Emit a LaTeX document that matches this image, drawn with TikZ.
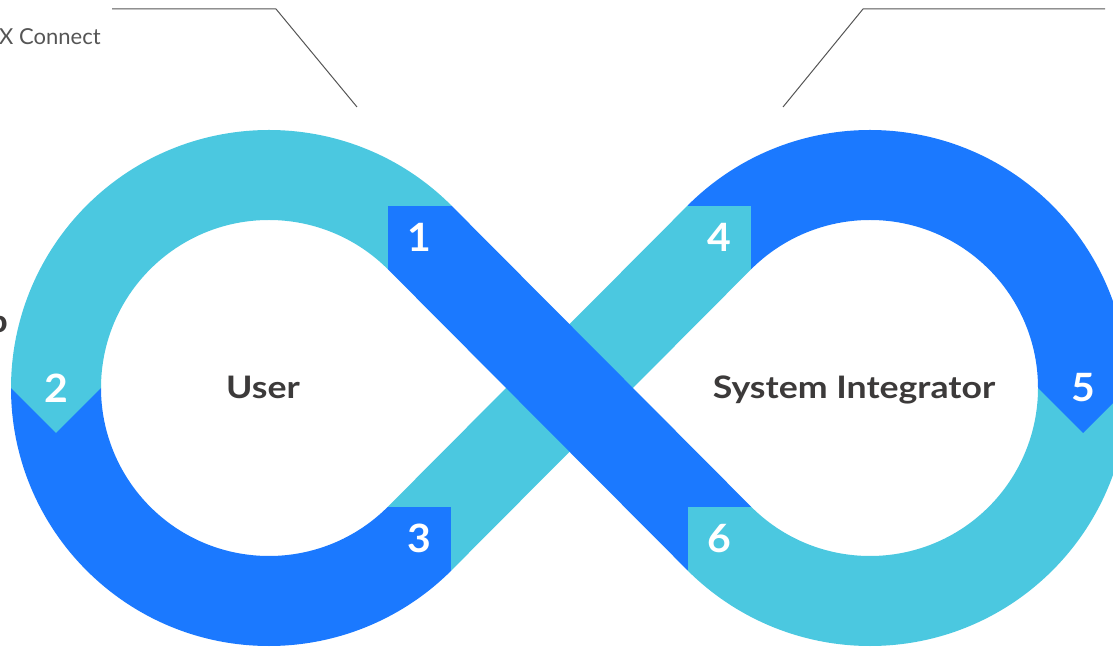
\documentclass[tikz,border=0pt]{standalone}
\usepackage{fontspec}
\setmainfont{Lato}
\usetikzlibrary{calc}
\definecolor{loopblue}{RGB}{27,121,255}
\definecolor{loopcyan}{RGB}{75,200,224}
\definecolor{txtgray}{RGB}{60,58,58}
\definecolor{linegray}{RGB}{85,85,85}

\begin{document}
\begin{tikzpicture}[x=1pt,y=1pt,
  num/.style={text=white,font=\fontsize{39}{39}\selectfont\bfseries,inner sep=0pt,xscale=1.05},
  side/.style={text=txtgray,font=\fontsize{31}{31}\selectfont\bfseries,inner sep=0pt,xscale=1.15},
  lead/.style={linegray,line width=1pt}]
\useasboundingbox (0,0) rectangle (1113,648);
% loop centres and tangent points
\coordinate (L) at (269,260);
\coordinate (R) at (870,260);
\coordinate (T1) at ($(L)+(45:213)$);
\coordinate (T3) at ($(L)+(-45:213)$);
\coordinate (T4) at ($(R)+(135:213)$);
\coordinate (T6) at ($(R)+(225:213)$);
% left loop
\fill[loopblue] ($(L)+(180:258)$) arc[start angle=180,end angle=315,radius=258]
  -- ($(L)+(315:168)$) arc[start angle=315,end angle=180,radius=168] -- cycle;
\fill[loopcyan] ($(L)+(45:258)$) arc[start angle=45,end angle=180,radius=258]
  -- ($(L)+(-213,-45)$) -- ($(L)+(180:168)$) arc[start angle=180,end angle=45,radius=168] -- cycle;
% right loop
\fill[loopcyan] ($(R)+(0:258)$) arc[start angle=0,end angle=-135,radius=258]
  -- ($(R)+(-135:168)$) arc[start angle=-135,end angle=0,radius=168] -- cycle;
\fill[loopblue] ($(R)+(135:258)$) arc[start angle=135,end angle=0,radius=258]
  -- ($(R)+(213,-45)$) -- ($(R)+(0:168)$) arc[start angle=0,end angle=135,radius=168] -- cycle;
% crossing bands
\fill[loopcyan] ($(T3)+(-31.8,31.8)$) -- ($(T3)+(31.8,-31.8)$) -- ($(T4)+(31.8,-31.8)$) -- ($(T4)+(-31.8,31.8)$) -- cycle;
\fill[loopblue] ($(T3)+(-31.8,-31.8)$) rectangle ($(T3)+(31.8,31.8)$);
\fill[loopcyan] ($(T4)+(-31.8,-31.8)$) rectangle ($(T4)+(31.8,31.8)$);
\fill[loopblue] ($(T1)+(-31.8,-31.8)$) -- ($(T1)+(31.8,31.8)$) -- ($(T6)+(31.8,31.8)$) -- ($(T6)+(-31.8,-31.8)$) -- cycle;
\fill[loopblue] ($(T1)+(-31.8,-31.8)$) rectangle ($(T1)+(31.8,31.8)$);
\fill[loopcyan] ($(T6)+(-31.8,-31.8)$) rectangle ($(T6)+(31.8,31.8)$);
% step numbers
\node[num] (n1) at (T1) {1};
\node[num] (n2) at (56,260) {2};
\node[num] (n3) at (T3) {3};
\node[num] (n4) at (T4) {4};
\node[num] (n5) at (1083,260) {5};
\node[num] (n6) at (T6) {6};
% loop names
\node[side,anchor=base] (user) at (263,249) {User};
\node[side,anchor=base] (sysint) at (854,249) {System Integrator};
\node[side,anchor=base east] (pcut) at (8,315) {p};
\node[anchor=base west,inner sep=0pt,text=linegray,font=\fontsize{22}{22}\selectfont] (xcon) at (-1,603) {X Connect};
% leader lines
\coordinate (la) at (112,639);
\coordinate (lb) at (276,639);
\coordinate (lc) at (357,541);
\coordinate (ra) at (783,541);
\coordinate (rb) at (863,639);
\coordinate (rc) at (1105,639);
\draw[lead] (la) -- (lb) -- (lc);
\draw[lead] (ra) -- (rb) -- (rc);
\end{tikzpicture}
\end{document}
